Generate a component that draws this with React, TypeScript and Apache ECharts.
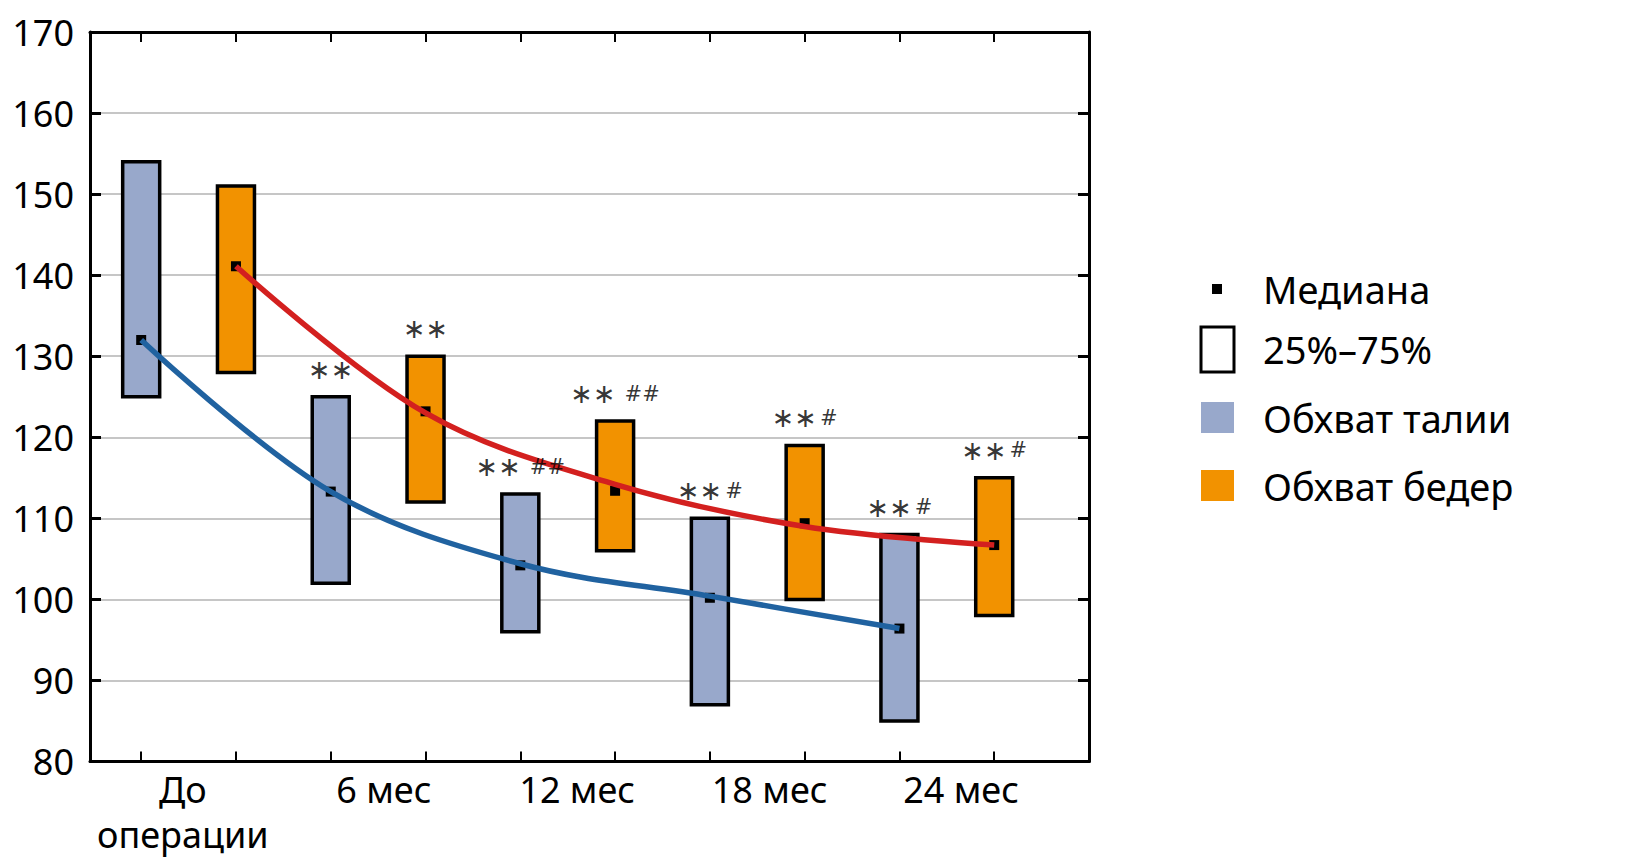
import { useEffect, useRef } from "react";
import * as echarts from "echarts";

// x slots: 0..9, waist boxes on even slots, hip boxes on odd slots
const slotTicks = [0, 1, 2, 3, 4, 5, 6, 7, 8, 9];
const periods = ["До\nоперации", "6 мес", "12 мес", "18 мес", "24 мес"];
const periodLabelAt = [0.44, 2.56, 4.6, 6.63, 8.65];

const waistSlot = [0, 2, 4, 6, 8];
const waistQ1 = [125, 102, 96, 87, 85];
const waistQ3 = [154, 125, 113, 110, 108];
const waistMedian = [132, 113.3, 104.2, 100.2, 96.4];
const waistTrend = [132, 113.3, 104.4, 100.4, 96.4];
const waistMarks = ["", "**", "** ##", "**#", "**#"];

const hipSlot = [1, 3, 5, 7, 9];
const hipQ1 = [128, 112, 106, 100, 98];
const hipQ3 = [151, 130, 122, 119, 115];
const hipMedian = [141.1, 123.2, 113.4, 109.4, 106.7];
const hipTrend = [141.1, 123.0, 114.2, 109.0, 106.7];
const hipMarks = ["", "**", "** ##", "**#", "**#"];

const legendLabels = ["Медиана", "25%–75%", "Обхват талии", "Обхват бедер"];

const FONT = "'Noto Sans', sans-serif";
const WAIST_FILL = "#98a8cb";
const HIP_FILL = "#f29200";
const WAIST_LINE = "#2062a0";
const HIP_LINE = "#d3201f";

function boxSeries(slots: number[], q1: number[], q3: number[], fill: string) {
  return {
    type: "custom",
    z: 2,
    encode: { x: 0, y: [1, 2] },
    data: slots.map((s, i) => [s, q1[i], q3[i]]),
    renderItem: (_params: any, api: any) => {
      const x = api.value(0);
      const lo = api.coord([x, api.value(1)]);
      const hi = api.coord([x, api.value(2)]);
      const w = 37;
      return {
        type: "rect",
        shape: { x: lo[0] - w / 2, y: hi[1], width: w, height: lo[1] - hi[1] },
        style: { fill, stroke: "#000", lineWidth: 3.5 },
      };
    },
  };
}

function markFormatter(mark: string) {
  if (!mark) return "";
  const stars = (mark.match(/\*+/) || [""])[0].replace(/\*/g, "∗");
  const hashes = (mark.match(/#+/) || [""])[0];
  if (!hashes) return `{s|${stars}}`;
  return mark.includes(" ") ? `{s|${stars}}{hw|${hashes}}` : `{s|${stars}}{hn|${hashes}}`;
}

function markSeries(slots: number[], q3: number[], marks: string[]) {
  return {
    type: "scatter",
    z: 6,
    symbolSize: 0,
    silent: true,
    data: slots.map((s, i) => ({ value: [s, q3[i]], mark: marks[i] })),
    label: {
      show: true,
      position: "top",
      distance: 14,
      formatter: (p: any) => markFormatter(p.data.mark),
      rich: {
        s: { fontFamily: "'DejaVu Sans'", fontSize: 27, color: "#000" },
        hw: { fontFamily: "'DejaVu Sans'", fontSize: 21, color: "#000", padding: [0, 0, 0, 9] },
        hn: { fontFamily: "'DejaVu Sans'", fontSize: 21, color: "#000", padding: [0, 0, 0, 3] },
      },
    },
  };
}

const frameLine = { show: true, onZero: false, lineStyle: { color: "#000", width: 3 } };

function buildOption() {
  const legendX = 1201;
  const textX = 1263;
  const legendY = [289, 349, 418, 486];
  const legendText = legendLabels.map((t, i) => ({
    type: "text",
    x: textX,
    y: legendY[i],
    style: { text: t, font: `38px ${FONT}`, fill: "#000", verticalAlign: "middle" },
  }));

  return {
    animation: false,
    grid: { left: 90, right: 551, top: 32, bottom: 101.5 },
    xAxis: [
      {
        type: "value",
        min: -0.54,
        max: 10,
        position: "bottom",
        axisLine: frameLine,
        axisTick: { show: true, customValues: slotTicks, inside: true, length: 10, lineStyle: { color: "#000", width: 2 } },
        axisLabel: {
          customValues: periodLabelAt,
          formatter: (v: number) => {
            const i = periodLabelAt.findIndex((p) => Math.abs(p - v) < 1e-6);
            return i >= 0 ? periods[i] : "";
          },
          fontFamily: FONT,
          fontSize: 36,
          lineHeight: 45,
          color: "#000",
          margin: 5,
        },
        splitLine: { show: false },
      },
      {
        type: "value",
        min: -0.54,
        max: 10,
        position: "top",
        axisLine: frameLine,
        axisTick: { show: true, customValues: slotTicks, inside: true, length: 10, lineStyle: { color: "#000", width: 2 } },
        axisLabel: { show: false },
        splitLine: { show: false },
      },
    ],
    yAxis: [
      {
        type: "value",
        min: 80,
        max: 170,
        interval: 10,
        position: "left",
        axisLine: frameLine,
        axisTick: { show: true, inside: true, length: 11, lineStyle: { color: "#000", width: 3 } },
        axisLabel: { fontFamily: FONT, fontSize: 36, color: "#000", margin: 16 },
        splitLine: { show: true, lineStyle: { color: "#b3b3b3", width: 1.5 } },
      },
      {
        type: "value",
        min: 80,
        max: 170,
        interval: 10,
        position: "right",
        axisLine: frameLine,
        axisTick: { show: true, inside: true, length: 11, lineStyle: { color: "#000", width: 3 } },
        axisLabel: { show: false },
        splitLine: { show: false },
      },
    ],
    series: [
      boxSeries(waistSlot, waistQ1, waistQ3, WAIST_FILL),
      boxSeries(hipSlot, hipQ1, hipQ3, HIP_FILL),
      {
        type: "scatter",
        z: 3,
        symbol: "rect",
        symbolSize: 10,
        itemStyle: { color: "#000", opacity: 1 },
        data: [
          ...waistSlot.map((s, i) => [s, waistMedian[i]]),
          ...hipSlot.map((s, i) => [s, hipMedian[i]]),
        ],
      },
      {
        type: "line",
        z: 4,
        smooth: 0.35,
        symbol: "none",
        lineStyle: { color: WAIST_LINE, width: 5.5 },
        data: waistSlot.map((s, i) => [s, waistTrend[i]]),
      },
      {
        type: "line",
        z: 4,
        smooth: 0.35,
        symbol: "none",
        lineStyle: { color: HIP_LINE, width: 5.5 },
        data: hipSlot.map((s, i) => [s, hipTrend[i]]),
      },
      markSeries(waistSlot, waistQ3, waistMarks),
      markSeries(hipSlot, hipQ3, hipMarks),
    ],
    graphic: [
      { type: "rect", shape: { x: 1212, y: legendY[0] - 5, width: 10, height: 10 }, style: { fill: "#000" } },
      {
        type: "rect",
        shape: { x: legendX, y: legendY[1] - 22, width: 33, height: 45 },
        style: { fill: "#fff", stroke: "#000", lineWidth: 3 },
      },
      { type: "rect", shape: { x: legendX, y: legendY[2] - 16, width: 33, height: 31 }, style: { fill: WAIST_FILL } },
      { type: "rect", shape: { x: legendX, y: legendY[3] - 16, width: 33, height: 31 }, style: { fill: HIP_FILL } },
      ...legendText,
    ],
  };
}

export default function App() {
  const chartRef = useRef<HTMLDivElement | null>(null);

  useEffect(() => {
    document.body.style.margin = "0";
    if (!chartRef.current) return;
    const instance = echarts.init(chartRef.current, null, { renderer: "svg" });
    instance.setOption(buildOption() as any);
    return () => {
      instance.dispose();
    };
  }, []);

  return <div ref={chartRef} style={{ width: 1640, height: 863, background: "#fff" }} />;
}
